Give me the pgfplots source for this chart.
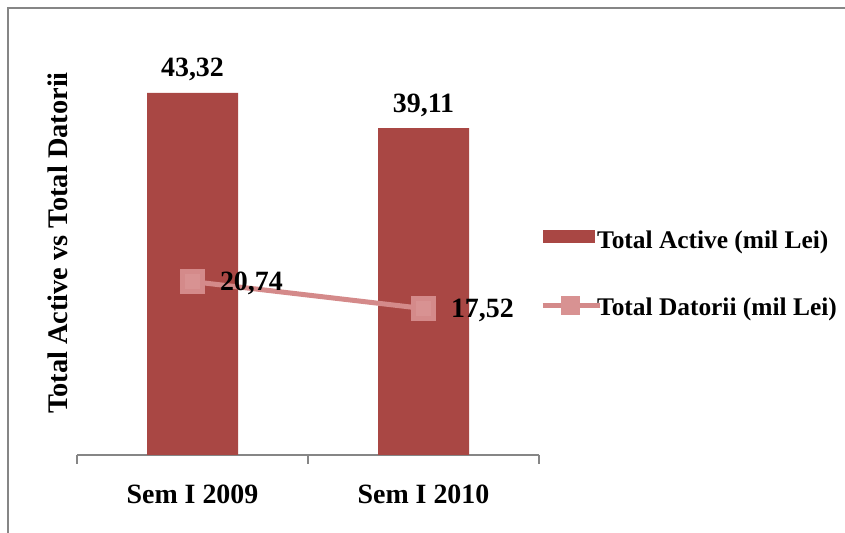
\documentclass[border=0pt]{standalone}
\usepackage{fontspec}
\setmainfont{Liberation Serif}
\usepackage{pgfplots}
\pgfplotsset{compat=1.18}
\definecolor{barred}{RGB}{169,71,68}
\definecolor{linepink}{RGB}{212,138,138}
\definecolor{markpink}{RGB}{216,146,146}
\definecolor{axisgray}{RGB}{134,134,134}
\begin{document}
\begin{tikzpicture}
\useasboundingbox (0,0) rectangle (845bp,533bp);
\draw[axisgray, line width=1.5bp] (8bp,0bp) -- (8bp,525bp) -- (846bp,525bp);
\node[rotate=90, inner sep=0pt, font=\fontsize{28.5}{33}\selectfont\bfseries] at (58bp,290bp) {Total Active vs Total Datorii};
\begin{axis}[
  at={(77bp,78bp)}, anchor=south west,
  scale only axis, width=462bp, height=418bp,
  xmin=-0.5, xmax=1.5, ymin=0, ymax=50,
  hide y axis,
  axis x line*=bottom,
  x axis line style={axisgray, line width=1.5bp},
  xtick={0,1},
  xticklabels={Sem I 2009,Sem I 2010},
  major tick length=0pt,
  xticklabel style={anchor=base, yshift=-48bp, font=\fontsize{28}{32}\selectfont\bfseries},
  extra x ticks={-0.5,0.5,1.5},
  extra x tick labels={},
  extra x tick style={tick align=outside, major tick length=9bp, tick style={axisgray, line width=1.5bp}},
  clip=false,
  /pgf/number format/assume math mode=true,
  /pgf/number format/.cd, use comma, fixed, fixed zerofill, precision=2, /pgfplots/.cd,
  legend style={at={(1.002,0.433)}, anchor=west, draw=none, fill=none, inner sep=0pt,
    font=\fontsize{25.5}{30}\selectfont\bfseries, row sep=45bp, column sep=-6bp,
    nodes={inner sep=1bp}},
  legend cell align=left,
]
\addplot[ybar, bar width=91bp, bar shift=0pt, fill=barred, draw=none,
  nodes near coords,
  nodes near coords style={anchor=base, yshift=16bp, inner sep=0pt, text=black, font=\fontsize{28}{32}\selectfont\bfseries},
  legend image code/.code={\fill[barred] (0bp,-2.5bp) rectangle (52bp,10.5bp);}]
  coordinates {(0,43.32) (1,39.11)};
\addlegendentry{Total Active (mil Lei)}
\addplot[linepink, line width=5bp, mark=square*, mark size=10bp, mark options={fill=markpink, draw=none},
  nodes near coords,
  nodes near coords style={anchor=base west, xshift=25bp, yshift=-9bp, inner sep=0pt, text=black, font=\fontsize{28}{32}\selectfont\bfseries},
  legend image code/.code={\draw[linepink, line width=5bp] (0bp,2bp) -- (57bp,2bp); \fill[markpink] (21bp,-5bp) rectangle (35bp,9bp);}]
  coordinates {(0,20.74) (1,17.52)};
\addlegendentry{Total Datorii (mil Lei)}
\end{axis}
\end{tikzpicture}
\end{document}
